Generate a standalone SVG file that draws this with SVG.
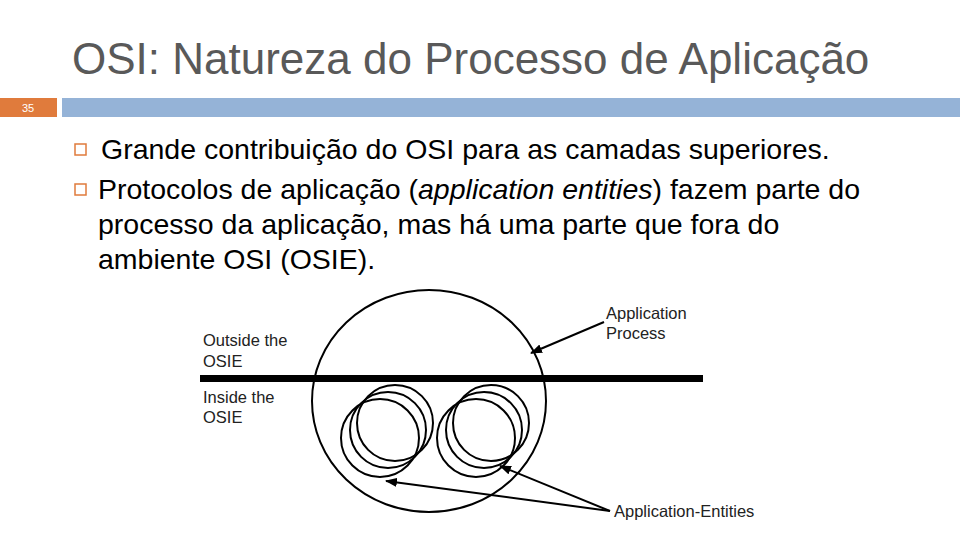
<svg xmlns="http://www.w3.org/2000/svg" width="960" height="540" viewBox="0 0 960 540">
<style>
.t{font-family:"Liberation Sans",Arial,sans-serif}
.b{font-size:28.5px;fill:#000}
.l{font-size:16.5px;fill:#222}
.c{fill:none;stroke:#000;stroke-width:2}
.a{stroke:#000;stroke-width:2;fill:none}
</style>
<defs><marker id="ah" markerWidth="12" markerHeight="9" refX="11" refY="4.5" orient="auto" markerUnits="userSpaceOnUse"><path d="M0,0 L12,4.5 L0,9 z" fill="#000"/></marker></defs>
<rect width="960" height="540" fill="#fff"/>
<text class="t" x="72" y="74" font-size="44" fill="#595959">OSI: Natureza do Processo de Aplicação</text>
<rect x="0" y="98" width="57" height="19" fill="#e07b3c"/>
<text class="t" x="28" y="112" font-size="11" fill="#fff" text-anchor="middle">35</text>
<rect x="62" y="98" width="898" height="19" fill="#95b3d7"/>
<rect x="75" y="144" width="11" height="11" fill="none" stroke="#e07b3c" stroke-width="1.5"/>
<rect x="75" y="184" width="11" height="11" fill="none" stroke="#e07b3c" stroke-width="1.5"/>
<text class="t b" x="101" y="159">Grande contribuição do OSI para as camadas superiores.</text>
<text class="t b" x="98" y="199">Protocolos de aplicação (<tspan font-style="italic">application entities</tspan>) fazem parte do</text>
<text class="t b" x="98" y="234">processo da aplicação, mas há uma parte que fora do</text>
<text class="t b" x="98" y="269">ambiente OSI (OSIE).</text>
<g id="process"><ellipse class="c" cx="429" cy="401" rx="117" ry="111"/></g>
<g id="boundary"><rect x="200" y="375" width="503" height="7" fill="#000"/></g>
<g id="ae1"><circle class="c" cx="395" cy="423" r="38"/><circle class="c" cx="388" cy="430" r="38"/><circle class="c" cx="380" cy="438" r="39" fill="#fff"/></g>
<g id="ae2"><circle class="c" cx="491" cy="423" r="38"/><circle class="c" cx="484" cy="430" r="38"/><circle class="c" cx="476" cy="438" r="39" fill="#fff"/></g>
<g id="labels" class="t l">
<text x="606" y="319">Application</text><text x="606" y="339">Process</text>
<text x="203" y="346">Outside the</text><text x="203" y="367">OSIE</text>
<text x="203" y="403">Inside the</text><text x="203" y="423">OSIE</text>
<text x="614" y="517">Application-Entities</text>
</g>
<g id="connectors">
<line class="a" x1="604" y1="322" x2="531" y2="353" marker-end="url(#ah)"/>
<line class="a" x1="610" y1="511" x2="386" y2="481" marker-end="url(#ah)"/>
<line class="a" x1="610" y1="511" x2="500" y2="466" marker-end="url(#ah)"/>
</g>
</svg>
